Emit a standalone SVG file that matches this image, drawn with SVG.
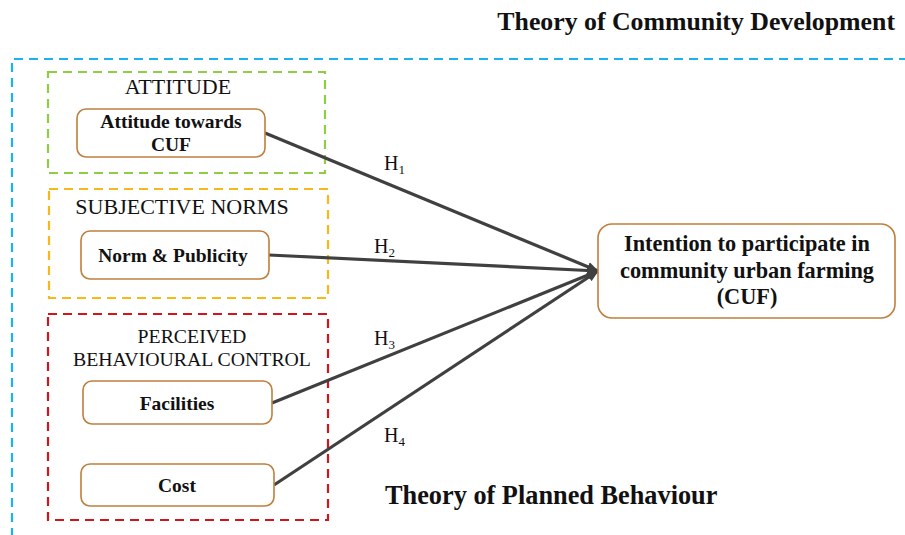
<svg xmlns="http://www.w3.org/2000/svg" width="905" height="535" viewBox="0 0 905 535">
<style>
.frame{fill:none;stroke-width:2.2;stroke-dasharray:9 6}
.node rect{fill:#fff;stroke:#bf7f3c;stroke-width:1.6}
.nt{font-family:"Liberation Serif",serif;font-weight:bold;font-size:19.5px;fill:#111;text-anchor:middle}
.big{font-size:22.3px}
.gt{font-family:"Liberation Serif",serif;font-size:22px;fill:#111;text-anchor:middle}
.gs{font-size:19.8px}
.ht{font-family:"Liberation Serif",serif;font-size:20px;fill:#111}
.sub{font-size:13px}
.title{font-family:"Liberation Serif",serif;font-weight:bold;font-size:25.8px;fill:#111}
.conn line{stroke:#404040;stroke-width:3.2}
</style>
<defs>
<marker id="arr" markerWidth="12" markerHeight="10" refX="11" refY="5" orient="auto" markerUnits="userSpaceOnUse" viewBox="0 0 12 10">
<path d="M0,0 L12,5 L0,10 z" fill="#404040"/>
</marker>
</defs>
<rect width="905" height="535" fill="#fff"/>
<text class="title" x="895" y="30" text-anchor="end">Theory of Community Development</text>
<path class="frame" d="M12,537 V59 H907" stroke="#1ab3ef"/>
<g id="group-attitude">
<rect class="frame" x="48" y="72" width="277" height="101" stroke="#8fcd45"/>
<text class="gt" x="178" y="94">ATTITUDE</text>
</g>
<g id="group-subjective">
<rect class="frame" x="49" y="189" width="279" height="109" stroke="#f8b817"/>
<text class="gt" x="182" y="214">SUBJECTIVE NORMS</text>
</g>
<g id="group-pbc">
<rect class="frame" x="48" y="314" width="280" height="206" stroke="#d0161d"/>
<text class="gt gs" x="192" y="343">PERCEIVED</text>
<text class="gt gs" x="192" y="366">BEHAVIOURAL CONTROL</text>
</g>
<g class="conn" id="connectors">
<line x1="265" y1="133" x2="598" y2="271" marker-end="url(#arr)"/>
<line x1="269" y1="255" x2="598" y2="271" marker-end="url(#arr)"/>
<line x1="272" y1="403" x2="598" y2="271" marker-end="url(#arr)"/>
<line x1="274" y1="485" x2="598" y2="271" marker-end="url(#arr)"/>
<text class="ht" x="384" y="170">H<tspan class="sub" dy="4">1</tspan></text>
<text class="ht" x="374" y="253">H<tspan class="sub" dy="4">2</tspan></text>
<text class="ht" x="374" y="345">H<tspan class="sub" dy="4">3</tspan></text>
<text class="ht" x="384" y="442">H<tspan class="sub" dy="4">4</tspan></text>
</g>
<g class="node" id="node-attitude">
<rect x="77" y="109" width="188" height="48" rx="9"/>
<text class="nt" x="171" y="128">Attitude towards</text>
<text class="nt" x="171" y="151">CUF</text>
</g>
<g class="node" id="node-norm">
<rect x="81" y="231" width="188" height="48" rx="9"/>
<text class="nt" x="173" y="262">Norm &amp; Publicity</text>
</g>
<g class="node" id="node-facilities">
<rect x="83" y="381" width="189" height="43" rx="9"/>
<text class="nt" x="177" y="410">Facilities</text>
</g>
<g class="node" id="node-cost">
<rect x="81" y="464" width="193" height="42" rx="9"/>
<text class="nt" x="177" y="492">Cost</text>
</g>
<g class="node" id="node-intention">
<rect x="598" y="224" width="297" height="94" rx="14"/>
<text class="nt big" x="747" y="251">Intention to participate in</text>
<text class="nt big" x="747" y="278">community urban farming</text>
<text class="nt big" x="747" y="304">(CUF)</text>
</g>
<text class="title" x="385" y="504" style="font-size:26.3px">Theory of Planned Behaviour</text>
</svg>
